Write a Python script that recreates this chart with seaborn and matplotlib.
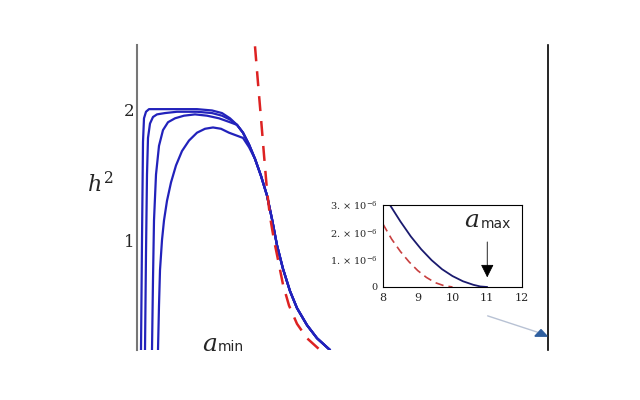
import matplotlib
matplotlib.use("Agg")
import matplotlib.pyplot as plt
import seaborn as sns
import numpy as np
import pandas as pd

sns.set_style("white")
plt.rcParams['font.family'] = ['DejaVu Serif']
plt.rcParams['mathtext.fontset'] = 'dejavuserif'

# shared decline (x in arbitrary units, axis spans 0..411), y = h^2
dec_x = [100, 106, 112, 118, 124, 130, 135, 140, 146, 153, 160, 170, 180, 193]
dec_y = [1.88, 1.82, 1.73, 1.62, 1.49, 1.34, 1.16, 0.96, 0.78, 0.61, 0.48, 0.35, 0.25, 0.16]
c1_x = [4, 5, 6, 7, 9, 12, 20, 40, 60, 75, 85, 93] + dec_x
c1_y = [0.16, 1.0, 1.75, 1.93, 1.98, 2.0, 2.0, 2.0, 2.0, 1.99, 1.97, 1.93] + dec_y
c2_x = [8, 9, 10, 11, 13, 16, 20, 28, 40, 60, 75, 85, 93] + dec_x
c2_y = [0.16, 0.9, 1.5, 1.78, 1.89, 1.94, 1.96, 1.97, 1.98, 1.98, 1.97, 1.95, 1.92] + dec_y
c3_x = [15, 16, 17, 19, 22, 26, 31, 38, 47, 58, 70, 82, 93] + dec_x
c3_y = [0.16, 0.7, 1.15, 1.5, 1.72, 1.84, 1.90, 1.93, 1.95, 1.96, 1.95, 1.93, 1.90] + dec_y
c4_x = [21, 22, 23, 25, 27, 30, 34, 39, 45, 52, 60, 68, 76, 84, 92] + dec_x[1:]
c4_y = [0.16, 0.5, 0.77, 1.0, 1.15, 1.30, 1.44, 1.57, 1.68, 1.76, 1.82, 1.85, 1.86, 1.85, 1.82] + [1.78, 1.71, 1.62, 1.49, 1.34, 1.16, 0.96, 0.78, 0.61, 0.48, 0.35, 0.25, 0.16]
red_x = [118, 121, 124, 127, 130, 133, 137, 141, 146, 152, 160, 170, 183]
red_y = [2.48, 2.2, 1.93, 1.65, 1.38, 1.18, 1.0, 0.85, 0.66, 0.50, 0.36, 0.25, 0.16]

# inset
in_blue_x = [8.2, 8.5, 8.8, 9.1, 9.4, 9.7, 10.0, 10.3, 10.6, 10.8, 11.0]
in_blue_y = [3.0e-6, 2.4e-6, 1.85e-6, 1.38e-6, 0.98e-6, 0.65e-6, 0.40e-6, 0.21e-6, 0.08e-6, 0.02e-6, 0.0]
in_red_x = [8.0, 8.25, 8.5, 8.75, 9.0, 9.25, 9.5, 9.75, 10.0]
in_red_y = [2.3e-6, 1.75e-6, 1.3e-6, 0.92e-6, 0.6e-6, 0.35e-6, 0.16e-6, 0.05e-6, 0.0]
in_yticks = [0, 1e-6, 2e-6, 3e-6]
in_yticklabels = ["0", r"1. $\times$ 10$^{-6}$", r"2. $\times$ 10$^{-6}$", r"3. $\times$ 10$^{-6}$"]
in_xticks = [8, 9, 10, 11, 12]

fig = plt.figure(figsize=(6.4, 4.0), dpi=100)
W, H = 640, 400
ax = fig.add_axes([137/W, 1-350/H, 411/W, 305/H])
blue = "#2222bb"
for xs, ys in [(c1_x, c1_y), (c2_x, c2_y), (c3_x, c3_y), (c4_x, c4_y)]:
    sns.lineplot(x=xs, y=ys, ax=ax, color=blue, lw=1.6, sort=False)
sns.lineplot(x=red_x, y=red_y, ax=ax, color="#dd2222", lw=1.8, sort=False, linestyle=(0, (6, 4)))
ax.set_xlim(0, 411)
ax.set_ylim(0.16, 2.49)
ax.set_xticks([])
ax.set_yticks([0.5, 1, 1.5, 2])
ax.set_yticklabels(["", "1", "", "2"], fontsize=12)
ax.tick_params(axis='y', length=4, direction='in', pad=2)
for s in ["top", "bottom"]:
    ax.spines[s].set_visible(False)
ax.spines["left"].set_color("#777777")
ax.spines["left"].set_linewidth(1.5)
ax.spines["right"].set_color("black")
ax.spines["right"].set_linewidth(1.2)
fig.text(100/W, 1-185/H, r"$h^2$", fontsize=16, ha="center", va="center")
fig.text(210/W, 1-356/H, r"$a$", fontsize=18, ha="center", va="bottom")
fig.text(218/W, 1-354/H, "min", fontsize=10, ha="left", va="bottom", family="DejaVu Sans")
# arrow lower right
fig.add_artist(matplotlib.patches.FancyArrowPatch((485/W, 1-315/H), (540/W, 1-333/H), transform=fig.transFigure,
               arrowstyle="-", color="#b8c2d4", lw=1))
fig.add_artist(matplotlib.patches.RegularPolygon((541/W, 1-334/H), 3, radius=0.011, color="#2f5f9f", transform=fig.transFigure))

ia = fig.add_axes([383/W, 1-287/H, 139/W, 82/H])
sns.lineplot(x=in_blue_x, y=in_blue_y, ax=ia, color="#1a1a6e", lw=1.3)
sns.lineplot(x=in_red_x, y=in_red_y, ax=ia, color="#c84040", lw=1.2, linestyle=(0, (5, 3)))
ia.set_xlim(8, 12)
ia.set_ylim(0, 3e-6)
ia.set_xticks(in_xticks)
ia.set_xticklabels([str(t) for t in in_xticks], fontsize=8)
ia.set_yticks(in_yticks)
ia.set_yticklabels(in_yticklabels, fontsize=7)
ia.tick_params(length=3, pad=1)
for s in ia.spines.values():
    s.set_color("black"); s.set_linewidth(0.8)
ia.annotate("", xy=(11, 0.25e-6), xytext=(11, 1.75e-6),
            arrowprops=dict(arrowstyle="-|>,head_length=0.8,head_width=0.4", color="black", lw=0.6))
ia.text(10.55, 2.0e-6, r"$a$", fontsize=18, ha="center", va="bottom")
ia.text(10.8, 2.05e-6, "max", fontsize=10, family="DejaVu Sans", ha="left", va="bottom")

fig.savefig("out.png", dpi=100)
